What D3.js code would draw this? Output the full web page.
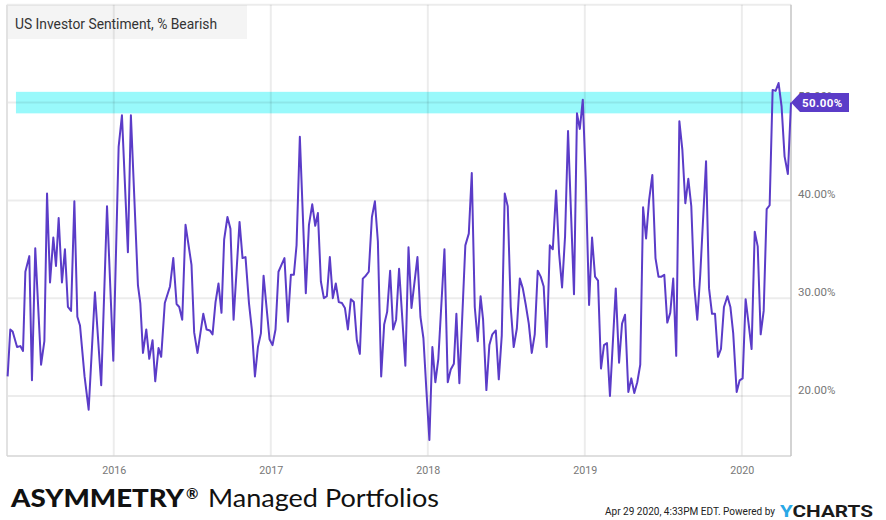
<!DOCTYPE html>
<html><head><meta charset="utf-8">
<script src="https://cdn.jsdelivr.net/npm/d3@7"></script>
<style>body{margin:0;background:#fff;} svg{display:block;}</style>
</head><body><svg id="c" width="886" height="520"></svg>
<script>
// ---- data ----
const title = "US Investor Sentiment, % Bearish";
const dates = [
2015.324,2015.341,2015.356,2015.384,2015.405,2015.422,2015.437,2015.462,2015.479,2015.500,
2015.537,2015.558,2015.575,2015.594,2015.615,2015.632,2015.649,2015.670,2015.689,2015.708,
2015.728,2015.749,2015.768,2015.785,2015.814,2015.840,2015.880,2015.920,2015.957,2015.997,
2016.031,2016.052,2016.090,2016.109,2016.154,2016.169,2016.186,2016.207,2016.226,2016.247,
2016.264,2016.285,2016.302,2016.325,2016.358,2016.379,2016.400,2016.417,2016.436,2016.457,
2016.495,2016.512,2016.533,2016.570,2016.591,2016.612,2016.629,2016.648,2016.667,2016.686,
2016.703,2016.724,2016.743,2016.763,2016.801,2016.820,2016.839,2016.861,2016.880,2016.899,
2016.918,2016.937,2016.954,2016.992,2017.011,2017.030,2017.049,2017.068,2017.087,2017.109,
2017.128,2017.147,2017.164,2017.185,2017.223,2017.243,2017.264,2017.283,2017.300,2017.319,
2017.338,2017.357,2017.376,2017.395,2017.414,2017.433,2017.453,2017.472,2017.491,2017.510,
2017.529,2017.548,2017.567,2017.586,2017.605,2017.624,2017.644,2017.663,2017.682,2017.703,
2017.722,2017.741,2017.760,2017.779,2017.798,2017.817,2017.857,2017.877,2017.896,2017.934,
2017.953,2017.972,2017.991,2018.010,2018.029,2018.048,2018.067,2018.106,2018.127,2018.146,
2018.166,2018.182,2018.201,2018.239,2018.261,2018.280,2018.299,2018.318,2018.336,2018.352,
2018.373,2018.392,2018.411,2018.433,2018.452,2018.471,2018.490,2018.509,2018.528,2018.547,
2018.567,2018.586,2018.605,2018.624,2018.643,2018.662,2018.681,2018.700,2018.719,2018.738,
2018.757,2018.777,2018.796,2018.817,2018.836,2018.855,2018.874,2018.893,2018.912,2018.931,
2018.950,2018.968,2018.987,2019.006,2019.027,2019.046,2019.065,2019.084,2019.103,2019.122,
2019.141,2019.160,2019.197,2019.218,2019.237,2019.256,2019.277,2019.296,2019.315,2019.334,
2019.353,2019.371,2019.390,2019.409,2019.430,2019.450,2019.469,2019.488,2019.506,2019.525,
2019.544,2019.563,2019.582,2019.602,2019.621,2019.640,2019.659,2019.678,2019.697,2019.716,
2019.735,2019.772,2019.791,2019.810,2019.829,2019.848,2019.867,2019.886,2019.908,2019.927,
2019.945,2019.967,2019.986,2020.005,2020.024,2020.043,2020.062,2020.082,2020.101,2020.120,
2020.139,2020.158,2020.177,2020.196,2020.215,2020.234,2020.253,2020.272,2020.293,2020.313
];
const bearish = [
22.0,26.8,26.6,25.0,25.1,24.6,32.7,34.3,21.6,35.1,
23.2,25.6,40.7,31.6,36.2,33.3,38.2,31.6,35.0,29.1,
28.7,39.9,28.1,27.2,22.0,18.6,30.6,21.1,39.4,23.6,
45.5,48.7,34.7,48.7,31.3,29.5,24.4,26.8,23.8,25.7,
21.5,24.9,24.0,29.5,31.2,34.1,29.4,29.1,27.8,37.5,
33.4,26.5,24.4,28.4,26.8,26.7,26.3,29.6,31.5,28.5,
36.0,38.3,37.1,27.8,37.8,34.1,34.2,29.5,26.7,22.0,
25.0,26.4,32.3,25.8,25.2,26.8,32.7,33.4,34.1,27.6,
32.4,32.4,35.4,46.5,30.5,37.5,39.6,37.4,38.7,31.7,
30.0,30.2,34.2,30.0,31.5,29.6,29.5,29.0,26.8,29.9,
29.6,25.7,24.3,32.0,32.3,32.7,38.3,39.9,35.8,22.0,
27.3,28.6,32.8,26.8,27.8,33.0,23.1,35.2,29.0,34.2,
28.1,25.9,20.6,15.5,25.0,21.4,23.8,35.0,21.4,22.7,
23.3,28.4,21.3,35.4,36.6,42.8,29.1,25.6,30.2,27.8,
20.6,25.2,26.3,26.7,21.7,26.2,40.7,39.4,29.1,25.0,
26.9,32.0,31.0,29.3,27.4,24.4,26.3,32.8,32.2,31.2,
25.0,35.4,35.0,41.0,34.6,31.1,36.3,47.1,38.7,30.4,
48.9,47.3,50.3,42.1,29.3,36.2,32.2,31.8,22.8,25.2,
25.4,20.0,31.0,23.4,27.4,28.3,20.4,21.8,20.3,21.4,
23.2,39.3,36.1,40.0,42.6,34.1,32.2,32.2,32.4,27.5,
28.5,32.0,24.1,48.1,45.2,39.7,42.2,39.4,31.2,27.8,
32.4,44.0,31.0,28.4,28.4,24.0,24.8,29.1,30.2,29.1,
26.4,20.4,21.6,21.8,29.9,27.4,24.8,36.8,35.3,26.3,
28.7,39.1,39.5,51.3,51.2,52.0,49.6,44.5,42.7,50.0
];
const yGrid = [20,30,40,50,60];
const yTickLabels = [20,30,40,50];
const xTicks = [2016,2017,2018,2019,2020];
const bandRange = [48.9, 51.1];
const bandStart = 2015.377;
const lastLabel = "50.00%";
const brandBold = "ASYMMETRY";
const brandMark = "®";
const brandRest = "Managed Portfolios";
const stamp = "Apr 29 2020, 4:33PM EDT.  Powered by";

// ---- drawing ----
const svg = d3.select("#c");
const L = 7, R = 791, T = 4.8, B = 456;
const x = d3.scaleLinear().domain([2015.32, dates[dates.length-1]]).range([L, R]);
const y = d3.scaleLinear().domain([13.86, 60]).range([B, T]);

// title box
svg.append("rect").attr("x", L).attr("y", 5).attr("width", 240).attr("height", 34).attr("fill", "#f4f4f4");

// highlight band
svg.append("rect")
  .attr("x", x(bandStart)).attr("y", y(bandRange[1]))
  .attr("width", R - x(bandStart)).attr("height", y(bandRange[0]) - y(bandRange[1]))
  .attr("fill", "#99f9fb");

// grid
svg.append("g").selectAll("line").data(yGrid).join("line")
  .attr("x1", L).attr("x2", R).attr("y1", d => y(d)).attr("y2", d => y(d))
  .attr("stroke", "#000").attr("stroke-opacity", 0.075).attr("stroke-width", 2);
svg.append("g").selectAll("line").data(xTicks).join("line")
  .attr("x1", d => x(d)).attr("x2", d => x(d)).attr("y1", T).attr("y2", B)
  .attr("stroke", "#000").attr("stroke-opacity", 0.075).attr("stroke-width", 2);

// frame
svg.append("line").attr("x1", L).attr("x2", L).attr("y1", T).attr("y2", B).attr("stroke", "#e2e2e2").attr("stroke-width", 2);
svg.append("line").attr("x1", L).attr("x2", R).attr("y1", B).attr("y2", B).attr("stroke", "#d4d4d4").attr("stroke-width", 1.5);
svg.append("line").attr("x1", R).attr("x2", R).attr("y1", T).attr("y2", B).attr("stroke", "#c4c4c4").attr("stroke-width", 1.5);

// title
svg.append("text").attr("x", 15).attr("y", 29).text(title)
  .attr("font-family", "Roboto").attr("font-size", 14).attr("fill", "#333")
  .attr("textLength", 202).attr("lengthAdjust", "spacingAndGlyphs");

// axes
const yAxis = d3.axisRight(y).tickValues(yTickLabels).tickSize(0).tickPadding(7)
  .tickFormat(d => d.toFixed(2) + "%");
const gy = svg.append("g").attr("transform", `translate(${R},0)`).call(yAxis);
gy.select(".domain").remove();
gy.selectAll("text").attr("font-family", "Roboto").attr("font-size", 11.5)
  .attr("fill", "#777").attr("dy", "-0.25em");

const xAxis = d3.axisBottom(x).tickValues(xTicks).tickSize(0).tickPadding(10).tickFormat(d3.format("d"));
const gx = svg.append("g").attr("transform", `translate(0,${B})`).call(xAxis);
gx.select(".domain").remove();
gx.selectAll("text").attr("font-family", "Roboto").attr("font-size", 11)
  .attr("fill", "#777").attr("textLength", 24).attr("lengthAdjust", "spacingAndGlyphs");

// line
const line = d3.line().x((d, i) => x(dates[i])).y(d => y(d));
svg.append("path").datum(bearish).attr("d", line)
  .attr("fill", "none").attr("stroke", "#5b3cc8").attr("stroke-width", 2)
  .attr("stroke-linejoin", "round");

// last value flag
const lastY = y(bearish[bearish.length - 1]);
const fx = R;
svg.append("path")
  .attr("d", `M${fx},${lastY} L${fx+9},${lastY-9.5} L${fx+58},${lastY-9.5} L${fx+58},${lastY+9.5} L${fx+9},${lastY+9.5} Z`)
  .attr("fill", "#5b3cc8");
svg.append("text").attr("x", fx + 11).attr("y", lastY + 4).text(lastLabel)
  .attr("font-family", "Roboto").attr("font-weight", "bold").attr("font-size", 11.5)
  .attr("fill", "#fff").attr("letter-spacing", 0.4);

// footer
svg.append("text").attr("x", 11).attr("y", 507).text(brandBold)
  .attr("font-family", "Lato").attr("font-weight", 900).attr("font-size", 25).attr("fill", "#111")
  .attr("textLength", 173).attr("lengthAdjust", "spacingAndGlyphs");
svg.append("text").attr("x", 186).attr("y", 499).text(brandMark)
  .attr("font-family", "Lato").attr("font-weight", 700).attr("font-size", 15).attr("fill", "#111");
svg.append("text").attr("x", 208).attr("y", 507).text(brandRest)
  .attr("font-family", "Lato").attr("font-weight", 400).attr("font-size", 25).attr("fill", "#111")
  .attr("textLength", 231).attr("lengthAdjust", "spacingAndGlyphs");

svg.append("text").attr("x", 605).attr("y", 515).text(stamp)
  .attr("font-family", "Roboto").attr("font-size", 10).attr("fill", "#222")
  .attr("textLength", 170).attr("lengthAdjust", "spacingAndGlyphs");
const yc = svg.append("text").attr("x", 780).attr("y", 517)
  .attr("font-family", "Roboto").attr("font-weight", 700).attr("font-size", 17)
  .attr("textLength", 93).attr("lengthAdjust", "spacingAndGlyphs");
yc.append("tspan").text("Y").attr("fill", "#2aa8e6");
yc.append("tspan").text("CHARTS").attr("fill", "#1a1a1a");
</script>
</body></html>
